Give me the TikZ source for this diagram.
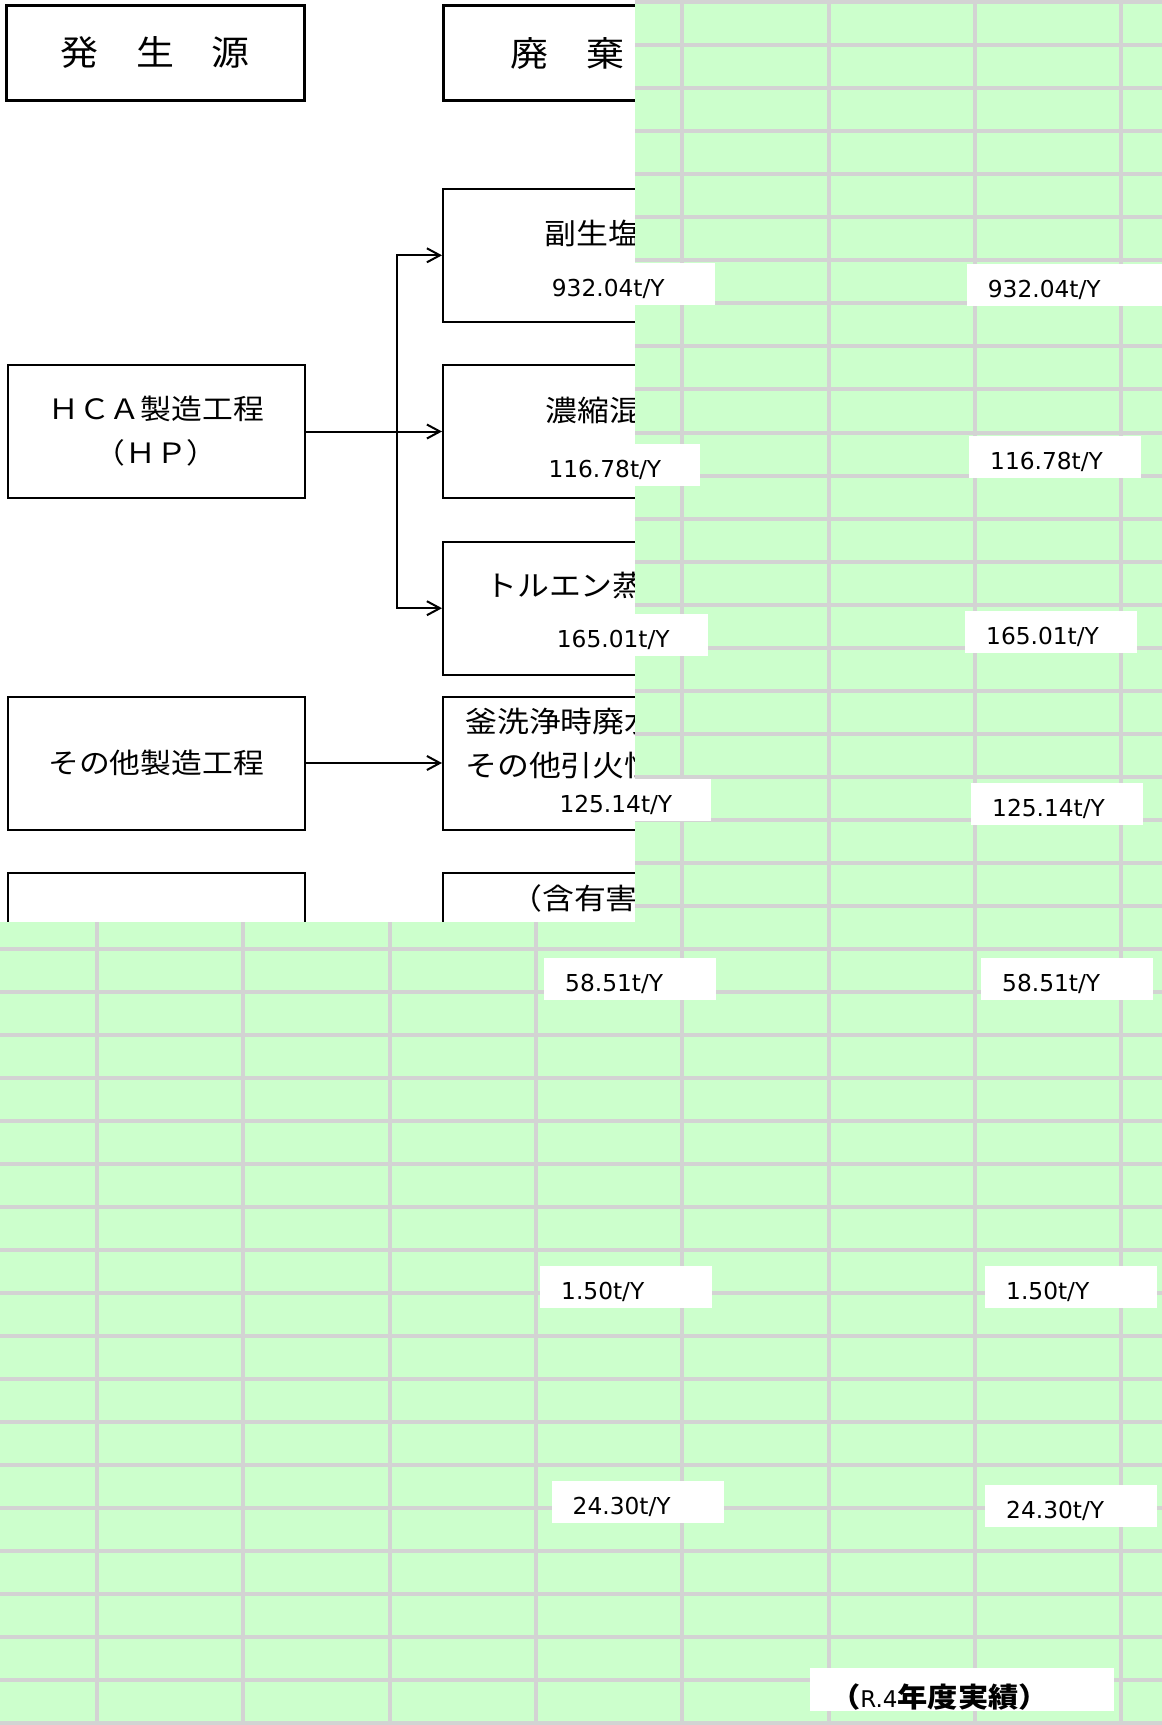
\documentclass[tikz,border=0pt]{standalone}
\usepackage{fontspec}
\usetikzlibrary{arrows.meta}
\newfontfamily\jp[FakeStretch=1.1]{Noto Sans CJK JP}
\newfontfamily\numfont{DejaVu Sans}
\definecolor{sheet}{RGB}{204,255,204}
\definecolor{cellline}{RGB}{211,211,211}
\tikzset{
  box/.style={draw, line width=2pt, inner sep=0pt},
  head/.style={box, line width=3pt, minimum width=298pt, minimum height=95pt, font=\jp\fontsize{34.5}{40}\selectfont},
  proc/.style={box, minimum width=297pt, minimum height=133pt, align=center, font=\jp\fontsize{28}{44}\selectfont},
  waste/.style={box, minimum width=328pt, minimum height=133pt},
  txt/.style={anchor=west, inner sep=0pt, font=\jp\fontsize{29}{34}\selectfont},
  tag/.style={fill=white, anchor=north west, inner xsep=21pt, inner ysep=0pt, text height=33.5pt, text depth=8.5pt, text width=130pt, align=left, font=\numfont\fontsize{23.3}{28}\selectfont},
  flow/.style={line width=2pt, -{Straight Barb[length=13pt, width=14pt, line width=2pt]}}
}
\begin{document}
\begin{tikzpicture}[x=1pt, y=-1pt]
  \useasboundingbox (0,0) rectangle (1162,1725);
  \fill[white] (0,0) rectangle (1162,1725);
  \node[head] (src) at (155,52.5) {発　生　源};
  \node[head, minimum width=328pt] (wst) at (607,52.5) {};
  \node[txt, font=\jp\fontsize{34.5}{40}\selectfont] (wstt) at (510,53) {廃　棄};
  \node[proc] (hp) at (156,431.5) {ＨＣＡ製造工程\\（ＨＰ）};
  \node[proc] (oth) at (156,763) {その他製造工程};
  \node[proc] (etc) at (156,939) {};
  \node[waste] (w1) at (607,255.3) {};
  \node[waste] (w2) at (607,431.5) {};
  \node[waste] (w3) at (607,608.2) {};
  \node[waste] (w4) at (607,763) {};
  \node[waste] (w5) at (607,939) {};
  \node[txt] (w1t) at (544,233) {副生塩};
  \node[txt] (w2t) at (545,410) {濃縮混};
  \node[txt] (w3t) at (485,586) {トルエン蒸};
  \node[txt] (w4t) at (465,722) {釜洗浄時廃水};
  \node[txt] (w4u) at (465,765) {その他引火性};
  \node[txt] (w5t) at (510,898) {（含有害};
  \coordinate (jn) at (397,431.5);
  \draw[flow] (hp.east) -- (w2.west);
  \draw[flow] (jn) |- (w1.west);
  \draw[flow] (jn) |- (w3.west);
  \draw[flow] (oth.east) -- (w4.west);
  \fill[sheet] (635,0) -- (1162,0) -- (1162,1725) -- (0,1725) -- (0,922) -- (635,922) -- cycle;
  \begin{scope}
    \clip (635,0) -- (1162,0) -- (1162,1725) -- (0,1725) -- (0,922) -- (635,922) -- cycle;
    \foreach \gx in {0,...,7}
      \draw[cellline, line width=4pt] (97+146.3*\gx,0) -- (97+146.3*\gx,1725);
    \foreach \gy in {0,...,40}
      \draw[cellline, line width=4pt] (0,2.2+43.03*\gy) -- (1162,2.2+43.03*\gy);
  \end{scope}
  \node[tag, text width=142pt] (v1) at (530.7,262.3) {932.04t/Y};
  \node[tag, text width=154pt] (v1r) at (966.7,263.3) {932.04t/Y};
  \node[tag] (v2) at (527.3,443.3) {116.78t/Y};
  \node[tag] (v2r) at (969,436) {116.78t/Y};
  \node[tag] (v3) at (535.7,613.3) {165.01t/Y};
  \node[tag] (v3r) at (965,611) {165.01t/Y};
  \node[tag] (v4) at (538.3,778.3) {125.14t/Y};
  \node[tag] (v4r) at (971,782.3) {125.14t/Y};
  \node[tag] (v5) at (544,957.3) {58.51t/Y};
  \node[tag] (v5r) at (981,957.3) {58.51t/Y};
  \node[tag] (v6) at (540,1266) {1.50t/Y};
  \node[tag] (v6r) at (985,1266) {1.50t/Y};
  \node[tag] (v7) at (551.5,1481) {24.30t/Y};
  \node[tag] (v7r) at (985,1485) {24.30t/Y};
  \node[tag, text width=264pt, inner xsep=20pt, text height=39.5pt, text depth=3.5pt, font=\jp\bfseries\fontsize{27.5}{30}\selectfont] (yr) at (810,1668) {（{\numfont\mdseries\fontsize{23}{28}\selectfont R.4}年度実績）};
\end{tikzpicture}
\end{document}
